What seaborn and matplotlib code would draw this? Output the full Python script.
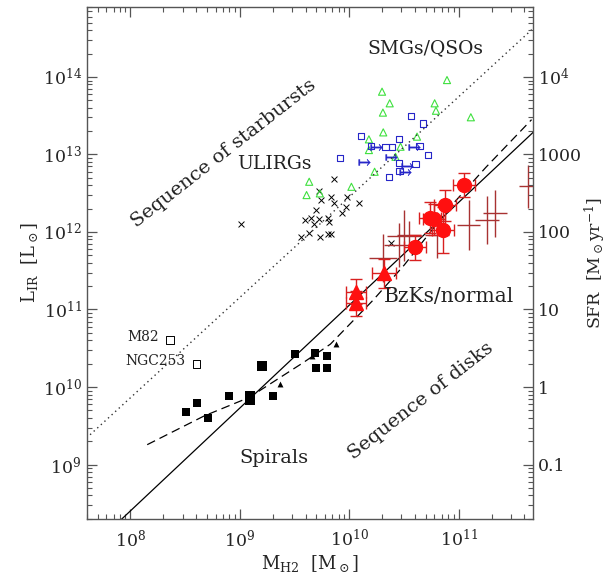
import numpy as np
import pandas as pd
import matplotlib
matplotlib.use('Agg')
from matplotlib import pyplot as plt
from matplotlib import ticker
import seaborn as sns

# all values are log10
# local spirals (filled squares), a few bigger ones
spiral_x = [8.505, 8.605, 8.705, 8.905, 9.30, 9.50, 9.689, 9.695, 9.798, 9.798]
spiral_y = [9.676, 9.79, 9.603, 9.887, 9.88, 10.42, 10.433, 10.248, 10.40, 10.248]
spiral_big_x = [9.097, 9.097, 9.203]
spiral_big_y = [9.887, 9.83, 10.27]
# small filled triangles
small_tri_x = [9.363, 9.664, 9.877]
small_tri_y = [10.033, 10.40, 10.557]
# M82 / NGC253
named_x = [8.362, 8.603]
named_y = [10.605, 10.30]
named_lab = ['M82', 'NGC253']

# ULIRGs
ulirg_x = [9.862, 9.725, 9.837, 9.862, 9.977, 9.968, 9.937, 10.089, 9.597, 9.649, 9.725,
           9.679, 9.807, 9.816, 9.634, 9.558, 9.731, 9.804, 9.832, 10.378, 9.74, 9.695, 9.012]
ulirg_y = [12.679, 12.532, 12.454, 12.369, 12.454, 12.317, 12.24, 12.377, 12.153, 12.175, 12.163,
           12.10, 12.175, 12.132, 11.99, 11.938, 11.93, 11.98, 11.98, 11.86, 12.41, 12.28, 12.105]

# SMGs (green triangles)
smg_x = [10.894, 10.30, 10.37, 10.308, 10.311, 10.18, 10.781, 10.793, 11.112, 10.62,
         10.469, 10.423, 10.232, 10.02, 10.18, 9.634, 9.61, 9.731]
smg_y = [13.96, 13.81, 13.66, 13.54, 13.285, 13.195, 13.66, 13.564, 13.48, 13.23,
         13.10, 12.97, 12.777, 12.583, 13.057, 12.648, 12.476, 12.498]

# QSOs (blue squares) and lower limits (arrows)
qso_x = [10.566, 10.675, 10.105, 9.913, 10.454, 10.393, 10.332, 10.72, 10.642,
         10.454, 10.606, 10.46, 10.362, 10.196]
qso_y = [13.495, 13.40, 13.24, 12.95, 13.195, 13.10, 13.10, 12.99, 13.108,
         12.893, 12.876, 12.786, 12.712, 13.108]
qso_lim_x = [10.135, 10.241, 10.378, 10.59, 10.53, 10.51]
qso_lim_y = [12.906, 13.10, 12.962, 13.09, 12.85, 12.78]

# BzKs (red circles) and z~0.5 disks (red triangles) with errors in dex
bzk_x = [11.046, 10.879, 10.742, 10.772, 10.857, 10.599]
bzk_y = [12.605, 12.347, 12.183, 12.162, 12.025, 11.80]
bzk_xerr = [0.10, 0.10, 0.10, 0.10, 0.10, 0.10]
bzk_yerr = [0.155, 0.2, 0.2, 0.2, 0.3, 0.16]
tri_x = [10.317, 10.065, 10.065]
tri_y = [11.466, 11.23, 11.08]
tri_xerr = [0.11, 0.09, 0.09]
tri_yerr = [0.19, 0.16, 0.16]

# error crosses without symbol
cross_x = [11.334, 11.258, 11.091, 10.80, 10.545, 11.638, 10.307, 10.503, 10.455]
cross_y = [12.24, 12.153, 12.089, 11.96, 11.96, 12.59, 11.67, 11.95, 11.83]
cross_xerr = [0.107, 0.107, 0.107, 0.11, 0.11, 0.09, 0.13, 0.16, 0.14]
cross_yerr = [0.30, 0.31, 0.32, 0.30, 0.18, 0.28, 0.31, 0.33, 0.28]

# relations
disk_line_x = [7.90, 11.70]
disk_line_y = [8.27, 13.31]
sb_line_x = [7.598, 11.70]
sb_line_y = [9.342, 14.65]
fit_x = [8.153, 8.674, 9.083, 9.580, 9.828, 10.219, 10.503, 10.716, 10.929, 11.248, 11.667]
fit_y = [9.256, 9.627, 9.864, 10.315, 10.553, 11.122, 11.574, 11.953, 12.333, 12.832, 13.449]

xlim = (7.598, 11.68)
ylim = (8.297, 14.908)


def lin(v):
    return np.power(10.0, np.asarray(v, dtype=float))


def log_err(v, e):
    v = lin(v)
    e = np.asarray(e, dtype=float)
    return np.vstack([v - v / 10**e, v * 10**e - v])


sns.set_style('ticks')
plt.rcParams['font.family'] = ['DejaVu Serif']
plt.rcParams['mathtext.fontset'] = 'dejavuserif'

fig = plt.figure(figsize=(6.11, 5.77), dpi=100)
ax = fig.add_axes([0.1416, 0.1005, 0.7307, 0.8881])
ax.set_xscale('log')
ax.set_yscale('log')

# lines
ax.plot(lin(disk_line_x), lin(disk_line_y), color='black', lw=0.9)
ax.plot(lin(sb_line_x), lin(sb_line_y), color='#333333', lw=1.0, ls=(0, (1, 2.5)))
ax.plot(lin(fit_x), lin(fit_y), color='black', lw=0.9, ls=(0, (7, 4)))

# point groups
sns.scatterplot(x=lin(spiral_x), y=lin(spiral_y), marker='s', color='black', s=28,
                linewidth=0, ax=ax)
sns.scatterplot(x=lin(spiral_big_x), y=lin(spiral_big_y), marker='s', color='black', s=55,
                linewidth=0, ax=ax)
sns.scatterplot(x=lin(small_tri_x), y=lin(small_tri_y), marker='^', color='black', s=18,
                linewidth=0, ax=ax)
ax.scatter(lin(named_x), lin(named_y), marker='s', s=30, facecolors='none',
           edgecolors='black', linewidths=0.7)
ax.scatter(lin(ulirg_x), lin(ulirg_y), marker='x', s=18, color='black', linewidths=0.7)
ax.scatter(lin(smg_x), lin(smg_y), marker='^', s=26, facecolors='none',
           edgecolors='#3ee03e', linewidths=0.8)
ax.scatter(lin(qso_x), lin(qso_y), marker='s', s=20, facecolors='none',
           edgecolors='#2626c8', linewidths=0.8)
ax.scatter(lin(qso_lim_x), lin(qso_lim_y), marker=r'$\mapsto$', s=70, color='#2626c8',
           linewidths=0.3)

ax.errorbar(lin(cross_x), lin(cross_y), xerr=log_err(cross_x, cross_xerr),
            yerr=log_err(cross_y, cross_yerr), fmt='none', ecolor='#a83232',
            elinewidth=1.0, capsize=0)
ax.errorbar(lin(bzk_x), lin(bzk_y), xerr=log_err(bzk_x, bzk_xerr),
            yerr=log_err(bzk_y, bzk_yerr), fmt='o', ms=10, color='#ff1010',
            ecolor='#d82020', elinewidth=1.0, capsize=4, capthick=1.0)
ax.errorbar(lin(tri_x), lin(tri_y), xerr=log_err(tri_x, tri_xerr),
            yerr=log_err(tri_y, tri_yerr), fmt='^', ms=10, color='#ff1010',
            ecolor='#d82020', elinewidth=1.0, capsize=4, capthick=1.0)

# labels inside the panel
txt = dict(color='#222222', ha='center', va='center')
ax.text(lin(8.851), lin(13.018), 'Sequence of starbursts', fontsize=14,
        rotation=38, rotation_mode='anchor', **txt)
ax.text(lin(10.654), lin(9.818), 'Sequence of disks', fontsize=14,
        rotation=38, rotation_mode='anchor', **txt)
ax.text(lin(9.312), lin(12.879), 'ULIRGs', fontsize=13.5, **txt)
ax.text(lin(10.697), lin(14.375), 'SMGs/QSOs', fontsize=13.5, **txt)
ax.text(lin(10.909), lin(11.173), 'BzKs/normal', fontsize=14.5, **txt)
ax.text(lin(9.312), lin(9.083), 'Spirals', fontsize=14, **txt)
for lx, ly, lab in zip(named_x, named_y, named_lab):
    ax.text(lin(lx - 0.1), lin(ly + 0.04), lab, fontsize=10, ha='right', va='center',
            color='#222222')

ax.set_xlim(lin(xlim[0]), lin(xlim[1]))
ax.set_ylim(lin(ylim[0]), lin(ylim[1]))
ax.set_xlabel(r'$\mathrm{M_{H2}\ \ [M_\odot]}$', fontsize=13, labelpad=2)
ax.set_ylabel(r'$\mathrm{L_{IR}\ \ [L_\odot]}$', fontsize=13, labelpad=2)

ax.xaxis.set_major_locator(ticker.LogLocator(base=10, numticks=20))
ax.xaxis.set_minor_locator(ticker.LogLocator(base=10, subs=np.arange(2, 10), numticks=20))
ax.yaxis.set_major_locator(ticker.LogLocator(base=10, numticks=20))
ax.yaxis.set_minor_locator(ticker.LogLocator(base=10, subs=np.arange(2, 10), numticks=20))
ax.xaxis.set_major_formatter(ticker.LogFormatterMathtext())
ax.yaxis.set_major_formatter(ticker.LogFormatterMathtext())
ax.xaxis.set_minor_formatter(ticker.NullFormatter())
ax.yaxis.set_minor_formatter(ticker.NullFormatter())
ax.tick_params(which='both', direction='in', top=True, right=False, labelsize=12.5,
               color='#555555')
ax.tick_params(which='major', length=7, width=0.9)
ax.tick_params(which='minor', length=3.5, width=0.8)
ax.tick_params(axis='x', pad=7)
for sp in ax.spines.values():
    sp.set_linewidth(1.0)
    sp.set_color('#555555')

# SFR axis on the right
ax2 = ax.twinx()
ax2.set_yscale('log')
ax2.set_ylim(lin(ylim[0] - 10), lin(ylim[1] - 10))
ax2.yaxis.set_major_locator(ticker.LogLocator(base=10, numticks=20))
ax2.yaxis.set_minor_locator(ticker.LogLocator(base=10, subs=np.arange(2, 10), numticks=20))
ax2.yaxis.set_major_formatter(ticker.FuncFormatter(
    lambda v, p: r'$10^{4}$' if v >= 1e4 else f'{v:g}'))
ax2.yaxis.set_minor_formatter(ticker.NullFormatter())
ax2.tick_params(which='both', direction='in', labelsize=12.5, color='#555555')
ax2.tick_params(which='major', length=7, width=0.9)
ax2.tick_params(which='minor', length=3.5, width=0.8)
ax2.set_ylabel(r'SFR  $[\mathrm{M_\odot yr^{-1}}]$', fontsize=12.5, labelpad=1)
for sp in ax2.spines.values():
    sp.set_visible(False)

fig.savefig('out.png', dpi=100)
